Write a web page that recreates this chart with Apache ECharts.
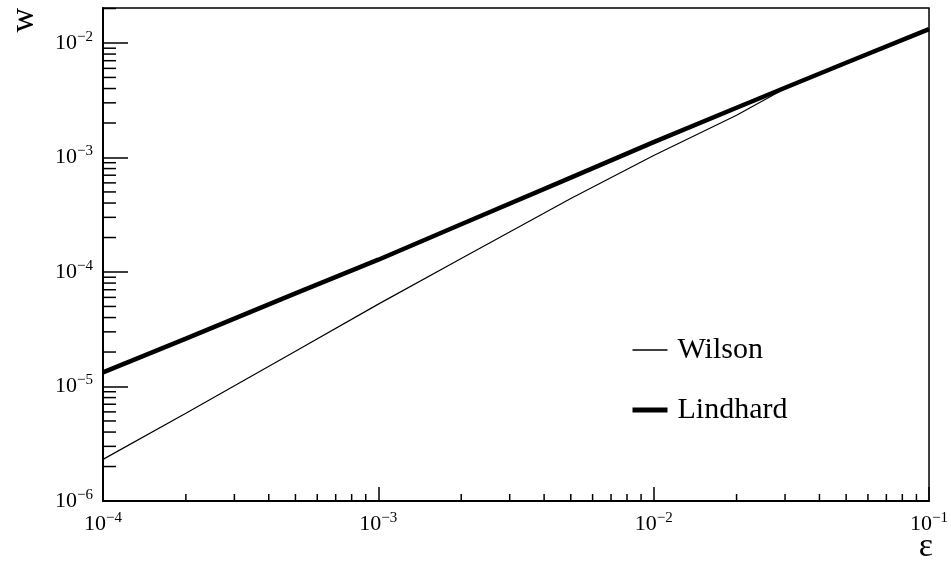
<!DOCTYPE html>
<html>
<head>
<meta charset="utf-8">
<script src="https://cdn.jsdelivr.net/npm/echarts@6/dist/echarts.min.js"></script>
<style>
html, body { margin: 0; padding: 0; background: #fff; }
#chart { width: 951px; height: 567px; }
</style>
</head>
<body>
<div id="chart"></div>
<script>
// Energy-loss weight w versus reduced energy ε for two models
const epsilon  = [1e-4, 2e-4, 5e-4, 1e-3, 2e-3, 5e-3, 1e-2, 2e-2, 3e-2, 5e-2, 1e-1];
const wilson   = [2.31e-6, 5.83e-6, 2.03e-5, 5.24e-5, 1.31e-4, 4.38e-4, 1.04e-3, 2.34e-3, 4.0e-3, 6.7e-3, 1.32e-2];
const lindhard = [1.33e-5, 2.62e-5, 6.5e-5, 1.28e-4, 2.61e-4, 6.67e-4, 1.36e-3, 2.72e-3, 4.06e-3, 6.72e-3, 1.32e-2];
const seriesNames = ['Wilson', 'Lindhard'];

const xRange = [1e-4, 1e-1];
const yRange = [1e-6, 0.0202];

// minor log ticks: 2..9 × 10^k inside each range
function minorTicks(lo, hi) {
  const out = [];
  for (let k = Math.floor(Math.log10(lo)); k <= Math.ceil(Math.log10(hi)); k++) {
    for (let m = 2; m <= 9; m++) {
      const v = m * Math.pow(10, k);
      if (v > lo && v < hi) out.push(v);
    }
  }
  return out;
}
const xMinor = minorTicks(xRange[0], xRange[1]);
const yMinor = minorTicks(yRange[0], yRange[1]);

const serif = 'Liberation Serif';
const pair = (a, b) => a.map((v, i) => [v, b[i]]);

function powLabel(v) {
  const e = Math.round(Math.log10(v));
  return '{b|10}{s|' + (e < 0 ? '\u2212' : '') + Math.abs(e) + '}';
}
const richPow = {
  b: { fontFamily: serif, fontSize: 22, color: '#000' },
  s: { fontFamily: serif, fontSize: 15, color: '#000', padding: [0, 0, 12, 0] }
};

function tickSeries(values, isX, len) {
  return {
    type: 'custom',
    silent: true,
    clip: false,
    z: 5,
    data: values.map(v => isX ? [v, yRange[0]] : [xRange[0], v]),
    renderItem: (params, api) => {
      const p = api.coord([api.value(0), api.value(1)]);
      return {
        type: 'line',
        shape: isX
          ? { x1: p[0], y1: p[1], x2: p[0], y2: p[1] - len }
          : { x1: p[0], y1: p[1], x2: p[0] + len, y2: p[1] },
        style: { stroke: '#000', lineWidth: 1.5 }
      };
    }
  };
}

const chart = echarts.init(document.getElementById('chart'), null, { renderer: 'canvas' });
chart.setOption({
  animation: false,
  backgroundColor: '#fff',
  grid: {
    left: 103, right: 18, top: 8, bottom: 66,
    show: true, borderColor: '#000', borderWidth: 1.5, backgroundColor: 'transparent'
  },
  legend: {
    data: [
      { name: seriesNames[0], lineStyle: { width: 1.5, color: '#000' } },
      { name: seriesNames[1], lineStyle: { width: 5, color: '#000' } }
    ],
    orient: 'vertical',
    left: 630, top: 335, padding: 0,
    itemWidth: 35, itemHeight: 20, itemGap: 30,
    textStyle: { fontFamily: serif, fontSize: 30, color: '#000', padding: [0, 0, 0, 5] },
    itemStyle: { opacity: 0 }
  },
  xAxis: {
    type: 'log', logBase: 10,
    min: xRange[0], max: xRange[1], interval: 1,
    axisLine: { lineStyle: { color: '#000', width: 2 } },
    axisTick: { inside: true, length: 14, lineStyle: { color: '#000', width: 1.5 } },
    splitLine: { show: false },
    axisLabel: { margin: 10, formatter: powLabel, rich: richPow }
  },
  yAxis: {
    type: 'log', logBase: 10,
    min: yRange[0], max: yRange[1], interval: 1,
    axisLine: { lineStyle: { color: '#000', width: 2 } },
    axisTick: { inside: true, length: 25, lineStyle: { color: '#000', width: 1.5 } },
    splitLine: { show: false },
    axisLabel: { margin: 10, showMaxLabel: false, formatter: powLabel, rich: richPow }
  },
  graphic: [
    {
      type: 'text', left: 7, top: 8, rotation: Math.PI / 2,
      style: { text: 'w', fontFamily: serif, fontSize: 34, fill: '#000' }
    },
    {
      type: 'text', right: 18, top: 530,
      style: { text: '\u03b5', fontFamily: serif, fontSize: 34, fill: '#000' }
    }
  ],
  series: [
    {
      name: 'Wilson', type: 'line', data: pair(epsilon, wilson),
      showSymbol: false, symbol: 'none', z: 3,
      lineStyle: { color: '#000', width: 1.2 }, itemStyle: { color: '#000' }
    },
    {
      name: 'Lindhard', type: 'line', data: pair(epsilon, lindhard),
      showSymbol: false, symbol: 'none', z: 2,
      lineStyle: { color: '#000', width: 4.5 }, itemStyle: { color: '#000' }
    },
    tickSeries(xMinor, true, 7),
    tickSeries(yMinor, false, 13)
  ]
});
</script>
</body>
</html>
